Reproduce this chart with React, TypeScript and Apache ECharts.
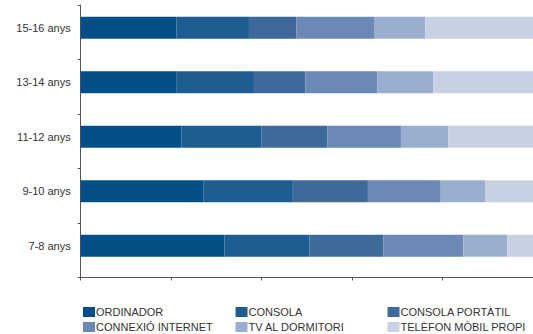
import React, { useEffect, useRef } from "react";
import * as echarts from "echarts";

const categories = ["7-8 anys", "9-10 anys", "11-12 anys", "13-14 anys", "15-16 anys"];
const seriesNames = [
  "ORDINADOR",
  "CONSOLA",
  "CONSOLA PORTÀTIL",
  "CONNEXIÓ INTERNET",
  "TV AL DORMITORI",
  "TELÈFON MÒBIL PROPI",
];
const ordinador = [31.8, 27.1, 22.3, 21.1, 21.2];
const consola = [18.8, 19.8, 17.7, 17.2, 16.0];
const consolaPortatil = [16.3, 16.6, 14.5, 11.4, 10.5];
const connexioInternet = [17.7, 16.1, 16.3, 15.9, 17.3];
const tvDormitori = [9.7, 9.9, 10.5, 12.3, 11.2];
const telefonMobil = [5.7, 10.5, 18.7, 22.1, 23.8];
const seriesValues = [ordinador, consola, consolaPortatil, connexioInternet, tvDormitori, telefonMobil];
const colors = ["#035089", "#1d5d92", "#3d6a9b", "#6b89b4", "#9aafcf", "#c8d1e4"];
const legendColumns = [
  ["ORDINADOR", "CONNEXIÓ INTERNET"],
  ["CONSOLA", "TV AL DORMITORI"],
  ["CONSOLA PORTÀTIL", "TELÈFON MÒBIL PROPI"],
];
const legendLefts = [83, 235.5, 387.5];

export default function App() {
  const ref = useRef<HTMLDivElement>(null);
  useEffect(() => {
    if (!ref.current) return;
    const chart = echarts.init(ref.current, null, { renderer: "svg" });
    const font = "'Liberation Sans', Arial, Helvetica, sans-serif";
    const axisColor = "#555";
    chart.setOption({
      animation: false,
      color: colors,
      textStyle: { fontFamily: font },
      grid: [
        { left: 80.7, right: -3, top: 0.5, height: 272.5, containLabel: false },
        { left: 80.7, right: -3, top: 5, height: 272.5, containLabel: false },
      ],
      xAxis: [
        {
          type: "value",
          gridIndex: 0,
          min: 0,
          max: 100,
          interval: 20,
          show: false,
        },
        {
          type: "value",
          gridIndex: 1,
          min: 0,
          max: 100,
          interval: 20,
          axisLine: { show: true, lineStyle: { color: axisColor, width: 1 } },
          axisTick: { show: true, length: 3, lineStyle: { color: axisColor } },
          axisLabel: { show: false },
          splitLine: { show: false },
        },
      ],
      yAxis: [
        {
          type: "category",
          gridIndex: 0,
          data: categories,
          axisLine: { show: false },
          axisTick: { show: false },
          axisLabel: { color: "#333", fontSize: 11, margin: 10, fontFamily: font },
        },
        {
          type: "category",
          gridIndex: 1,
          data: categories,
          axisLine: { show: true, lineStyle: { color: axisColor, width: 1 } },
          axisTick: { show: true, length: 3, lineStyle: { color: axisColor } },
          axisLabel: { show: false },
        },
      ],
      legend: legendColumns.map((names, i) => ({
        orient: "vertical",
        left: legendLefts[i],
        top: 306.5,
        padding: 0,
        itemWidth: 12,
        itemHeight: 10,
        itemGap: 4,
        icon: "rect",
        data: names,
        textStyle: { color: "#333", fontSize: 11, fontFamily: font, padding: [0, 0, 0, -4] },
      })),
      series: seriesNames.map((name, i) => ({
        name,
        type: "bar",
        stack: "total",
        xAxisIndex: 0,
        yAxisIndex: 0,
        barWidth: 22,
        data: seriesValues[i],
        itemStyle: { color: colors[i] },
      })),
    });
    return () => chart.dispose();
  }, []);
  return <div ref={ref} style={{ width: 533, height: 334, position: "absolute", left: 0, top: 0 }} />;
}
